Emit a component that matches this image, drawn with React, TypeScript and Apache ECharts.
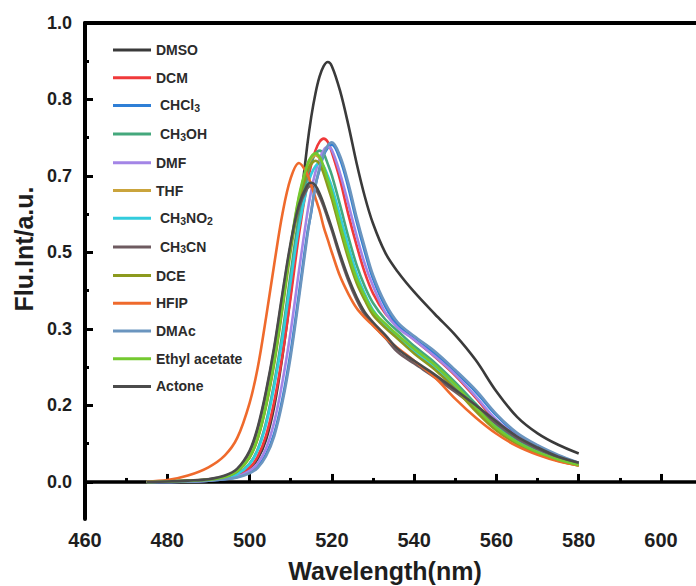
import { useEffect, useRef } from "react";
import * as echarts from "echarts";

// Emission wavelengths (nm) shared by every solvent trace
const wavelengths = [475, 480, 485, 490, 494, 497, 500, 502, 504, 506, 508, 510, 512, 514, 515, 516, 517, 518, 519, 520, 522, 524, 526, 528, 530, 533, 536, 540, 545, 550, 555, 560, 565, 570, 575, 580];

const solventNames = ["DMSO", "DCM", "CHCl3", "CH3OH", "DMF", "THF", "CH3NO2", "CH3CN", "DCE", "HFIP", "DMAc", "Ethyl acetate", "Actone"];
const solventColors = ["#3a3a3a", "#f0393a", "#2f7fd6", "#44a87c", "#a385e6", "#caa43c", "#33ccdd", "#6e5b60", "#8c9a1e", "#ef6a2c", "#6b95bf", "#74c930", "#4b4b4b"];

// Fluorescence intensity per solvent
const dmso = [0, 0.001, 0.002, 0.004, 0.008, 0.015, 0.030, 0.051, 0.092, 0.165, 0.275, 0.412, 0.576, 0.732, 0.796, 0.846, 0.883, 0.906, 0.915, 0.906, 0.852, 0.778, 0.695, 0.622, 0.563, 0.499, 0.458, 0.414, 0.366, 0.320, 0.265, 0.197, 0.142, 0.106, 0.081, 0.062];
const dcm = [0, 0.001, 0.001, 0.004, 0.008, 0.015, 0.031, 0.056, 0.101, 0.176, 0.277, 0.404, 0.539, 0.651, 0.692, 0.722, 0.741, 0.748, 0.741, 0.718, 0.658, 0.583, 0.516, 0.456, 0.411, 0.367, 0.340, 0.310, 0.273, 0.232, 0.183, 0.131, 0.097, 0.073, 0.052, 0.037];
const chcl3 = [0, 0, 0.001, 0.003, 0.006, 0.011, 0.021, 0.034, 0.060, 0.106, 0.182, 0.284, 0.410, 0.540, 0.588, 0.647, 0.680, 0.712, 0.728, 0.735, 0.703, 0.642, 0.568, 0.502, 0.443, 0.382, 0.342, 0.312, 0.280, 0.240, 0.196, 0.145, 0.104, 0.078, 0.057, 0.041];
const ch3oh = [0, 0.001, 0.002, 0.004, 0.009, 0.018, 0.040, 0.072, 0.130, 0.217, 0.325, 0.455, 0.578, 0.668, 0.697, 0.715, 0.722, 0.715, 0.693, 0.668, 0.603, 0.534, 0.473, 0.426, 0.390, 0.354, 0.329, 0.296, 0.260, 0.217, 0.170, 0.123, 0.090, 0.067, 0.051, 0.038];
const dmf = [0, 0, 0.001, 0.003, 0.007, 0.012, 0.024, 0.041, 0.073, 0.131, 0.219, 0.329, 0.460, 0.584, 0.635, 0.675, 0.704, 0.723, 0.730, 0.723, 0.672, 0.606, 0.537, 0.475, 0.427, 0.369, 0.336, 0.310, 0.274, 0.234, 0.186, 0.135, 0.100, 0.074, 0.055, 0.039];
const thf = [0, 0.001, 0.002, 0.005, 0.011, 0.023, 0.053, 0.096, 0.167, 0.263, 0.384, 0.513, 0.619, 0.687, 0.705, 0.712, 0.705, 0.684, 0.655, 0.627, 0.559, 0.495, 0.441, 0.402, 0.370, 0.342, 0.317, 0.285, 0.249, 0.206, 0.157, 0.114, 0.084, 0.063, 0.047, 0.036];
const ch3no2 = [0, 0.001, 0.002, 0.004, 0.009, 0.017, 0.039, 0.070, 0.125, 0.209, 0.313, 0.438, 0.556, 0.643, 0.671, 0.688, 0.695, 0.688, 0.667, 0.643, 0.580, 0.514, 0.455, 0.410, 0.375, 0.341, 0.316, 0.285, 0.250, 0.209, 0.163, 0.118, 0.087, 0.065, 0.049, 0.037];
const ch3cn = [0, 0.001, 0.003, 0.006, 0.013, 0.027, 0.065, 0.116, 0.194, 0.290, 0.406, 0.516, 0.597, 0.639, 0.645, 0.639, 0.622, 0.600, 0.574, 0.548, 0.490, 0.439, 0.397, 0.364, 0.342, 0.314, 0.283, 0.258, 0.228, 0.196, 0.162, 0.127, 0.095, 0.072, 0.053, 0.040];
const dce = [0, 0.001, 0.002, 0.005, 0.011, 0.023, 0.053, 0.095, 0.165, 0.259, 0.378, 0.504, 0.609, 0.676, 0.693, 0.700, 0.693, 0.672, 0.644, 0.616, 0.550, 0.487, 0.434, 0.396, 0.364, 0.336, 0.312, 0.280, 0.245, 0.203, 0.154, 0.112, 0.083, 0.062, 0.046, 0.036];
const hfip = [0.001, 0.004, 0.014, 0.032, 0.058, 0.096, 0.172, 0.250, 0.358, 0.475, 0.585, 0.662, 0.695, 0.671, 0.646, 0.619, 0.591, 0.556, 0.528, 0.500, 0.448, 0.410, 0.379, 0.358, 0.341, 0.314, 0.292, 0.264, 0.228, 0.181, 0.140, 0.105, 0.078, 0.059, 0.045, 0.036];
const dmac = [0, 0, 0.001, 0.003, 0.006, 0.010, 0.019, 0.031, 0.056, 0.100, 0.174, 0.274, 0.400, 0.533, 0.592, 0.644, 0.685, 0.714, 0.733, 0.740, 0.710, 0.651, 0.577, 0.511, 0.451, 0.389, 0.348, 0.318, 0.285, 0.244, 0.200, 0.148, 0.107, 0.080, 0.059, 0.042];
const ethylAcetate = [0, 0.001, 0.003, 0.005, 0.011, 0.024, 0.054, 0.097, 0.168, 0.265, 0.387, 0.516, 0.623, 0.691, 0.709, 0.716, 0.709, 0.687, 0.659, 0.630, 0.562, 0.498, 0.444, 0.405, 0.372, 0.345, 0.320, 0.290, 0.255, 0.212, 0.162, 0.118, 0.087, 0.065, 0.049, 0.037];
const actone = [0, 0.001, 0.003, 0.006, 0.014, 0.029, 0.068, 0.120, 0.198, 0.295, 0.412, 0.522, 0.604, 0.646, 0.652, 0.646, 0.629, 0.606, 0.580, 0.553, 0.496, 0.445, 0.403, 0.370, 0.348, 0.320, 0.290, 0.264, 0.234, 0.201, 0.167, 0.132, 0.099, 0.075, 0.055, 0.042];

const solventValues = [dmso, dcm, chcl3, ch3oh, dmf, thf, ch3no2, ch3cn, dce, hfip, dmac, ethylAcetate, actone];

// Axis ticks and labels
const xLabelTicks = [460, 480, 500, 520, 540, 560, 580, 600];
const xMinorTicks = [470, 490, 510, 530, 550, 570, 590];
const yLabelTicks = [0, 1 / 6, 2 / 6, 3 / 6, 4 / 6, 5 / 6, 1];
const yMinorTicks = [1 / 12, 3 / 12, 5 / 12, 7 / 12, 9 / 12, 11 / 12];

// Legend labels with chemical subscripts
const legendRich: Record<string, string> = {
  CHCl3: "{p|CHCl}{s|3}",
  CH3OH: "{p|CH}{s|3}{n|OH}",
  CH3NO2: "{p|CH}{s|3}{n|NO}{s|2}",
  CH3CN: "{p|CH}{s|3}{n|CN}",
};

const FONT = '"Liberation Sans", Arial, Helvetica, sans-serif';

export default function App() {
  const ref = useRef<HTMLDivElement>(null);

  useEffect(() => {
    if (!ref.current) return;
    const chart = echarts.init(ref.current, null, { renderer: "svg" });

    const series = solventNames.map((name, i) => ({
      name,
      type: "line" as const,
      data: wavelengths.map((w, j) => [w, solventValues[i][j]]),
      showSymbol: false,
      smooth: 0.35,
      lineStyle: { width: 2.6, color: solventColors[i] },
      itemStyle: { color: solventColors[i] },
      z: 2,
    }));

    const yMin = -0.0807;
    const xMin = 460;
    const xMax = 608.5;

    chart.setOption({
      animation: false,
      backgroundColor: "#ffffff",
      grid: { left: 85, top: 23, right: 0, bottom: 67, containLabel: false },
      legend: {
        orient: "vertical",
        left: 113,
        top: 43,
        padding: 0,
        itemWidth: 38,
        itemHeight: 3,
        itemGap: 13.7,
        icon: "rect",
        selectedMode: false,
        data: solventNames,
        formatter: (name: string) => legendRich[name] ?? `{n|${name}}`,
        textStyle: {
          color: "#2b2b2b",
          fontFamily: FONT,
          fontWeight: "bold",
          fontSize: 14,
          rich: {
            n: { fontFamily: FONT, fontWeight: "bold", fontSize: 14, lineHeight: 16, color: "#2b2b2b" },
            p: { fontFamily: FONT, fontWeight: "bold", fontSize: 14, lineHeight: 16, color: "#2b2b2b", padding: [0, 0, 0, 4] },
            s: { fontFamily: FONT, fontWeight: "bold", fontSize: 10.5, lineHeight: 10, color: "#2b2b2b", verticalAlign: "bottom" },
          },
        },
      },
      xAxis: [
        {
          type: "value",
          position: "bottom",
          min: xMin,
          max: xMax,
          axisLine: { show: true, lineStyle: { color: "#000", width: 3.5 } },
          axisTick: { show: true, inside: true, length: 8, customValues: xLabelTicks, lineStyle: { color: "#000", width: 3 } },
          axisLabel: {
            show: true,
            customValues: xLabelTicks,
            margin: 11,
            color: "#1e1e1e",
            fontFamily: FONT,
            fontWeight: "bold",
            fontSize: 20,
          },
          splitLine: { show: false },
        },
        {
          type: "value",
          position: "bottom",
          min: xMin,
          max: xMax,
          axisLine: { show: false },
          axisTick: { show: true, inside: true, length: 4, customValues: xMinorTicks, lineStyle: { color: "#000", width: 3 } },
          axisLabel: { show: false },
          splitLine: { show: false },
        },
        {
          type: "value",
          position: "top",
          min: xMin,
          max: xMax,
          axisLine: { show: true, lineStyle: { color: "#000", width: 4 } },
          axisTick: { show: false },
          axisLabel: { show: false },
          splitLine: { show: false },
        },
      ],
      yAxis: [
        {
          type: "value",
          position: "left",
          min: yMin,
          max: 1,
          axisLine: { show: true, lineStyle: { color: "#000", width: 4 } },
          axisTick: { show: true, inside: true, length: 8, customValues: yLabelTicks, lineStyle: { color: "#000", width: 3 } },
          axisLabel: {
            show: true,
            customValues: yLabelTicks,
            formatter: (v: number) => v.toFixed(1),
            margin: 13,
            color: "#1e1e1e",
            fontFamily: FONT,
            fontWeight: "bold",
            fontSize: 18,
          },
          splitLine: { show: false },
        },
        {
          type: "value",
          position: "left",
          min: yMin,
          max: 1,
          axisLine: { show: false },
          axisTick: { show: true, inside: true, length: 4, customValues: yMinorTicks, lineStyle: { color: "#000", width: 3 } },
          axisLabel: { show: false },
          splitLine: { show: false },
        },
      ],
      graphic: [
        {
          type: "text",
          x: 24,
          y: 249,
          rotation: Math.PI / 2,
          style: {
            text: "Flu.Int/a.u.",
            font: `bold 25px ${FONT}`,
            fill: "#1e1e1e",
            textAlign: "center",
            textVerticalAlign: "middle",
            align: "center",
            verticalAlign: "middle",
          },
        },
        {
          type: "text",
          x: 385,
          y: 571,
          style: {
            text: "Wavelength(nm)",
            font: `bold 25px ${FONT}`,
            fill: "#1e1e1e",
            textAlign: "center",
            textVerticalAlign: "middle",
            align: "center",
            verticalAlign: "middle",
          },
        },
      ],
      series,
    });

    return () => chart.dispose();
  }, []);

  return (
    <div
      ref={ref}
      style={{ position: "fixed", left: 0, top: 0, width: 696, height: 586, background: "#fff" }}
    />
  );
}
